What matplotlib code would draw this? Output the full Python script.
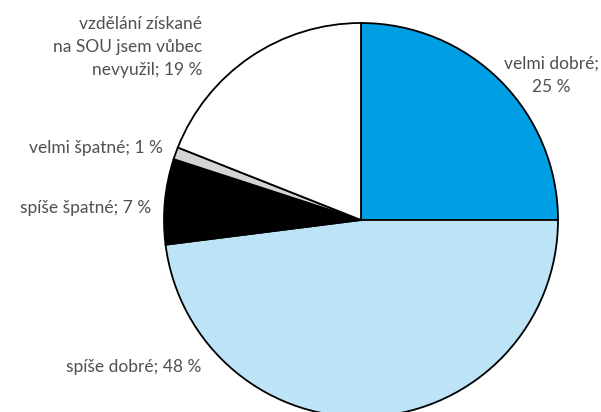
import matplotlib.pyplot as plt

# data
labels = ["velmi dobré;\n25 %", "spíše dobré; 48 %", "spíše špatné; 7 %",
          "velmi špatné; 1 %", "vzdělání získané\nna SOU jsem vůbec\nnevyužil; 19 %"]
values = [25, 48, 7, 1, 19]
colors = ["#009FE3", "#BDE4F6", "#000000", "#D4D4D4", "#FFFFFF"]

# label anchor points in pixel coords (x, y from top) and alignment
label_pos = [(551, 75, "center"), (201, 367, "right"), (151, 208, "right"),
             (163, 148, "right"), (202, 47, "right")]

W, H = 601, 412
fig = plt.figure(figsize=(W / 100, H / 100), dpi=100)
ax = fig.add_axes([0, 0, 1, 1])

ax.pie(values, colors=colors, startangle=90, counterclock=False,
       center=(361, H - 220), radius=197, frame=True,
       wedgeprops=dict(edgecolor="black", linewidth=1.3))
ax.set_xlim(0, W)
ax.set_ylim(0, H)
ax.axis("off")

for lab, (x, y, ha) in zip(labels, label_pos):
    ax.text(x, H - y, lab, ha=ha, va="center", multialignment=ha,
            fontsize=12.5, color="#505050", family="Lato",
            linespacing=1.55)

fig.savefig("out.png", dpi=100)
